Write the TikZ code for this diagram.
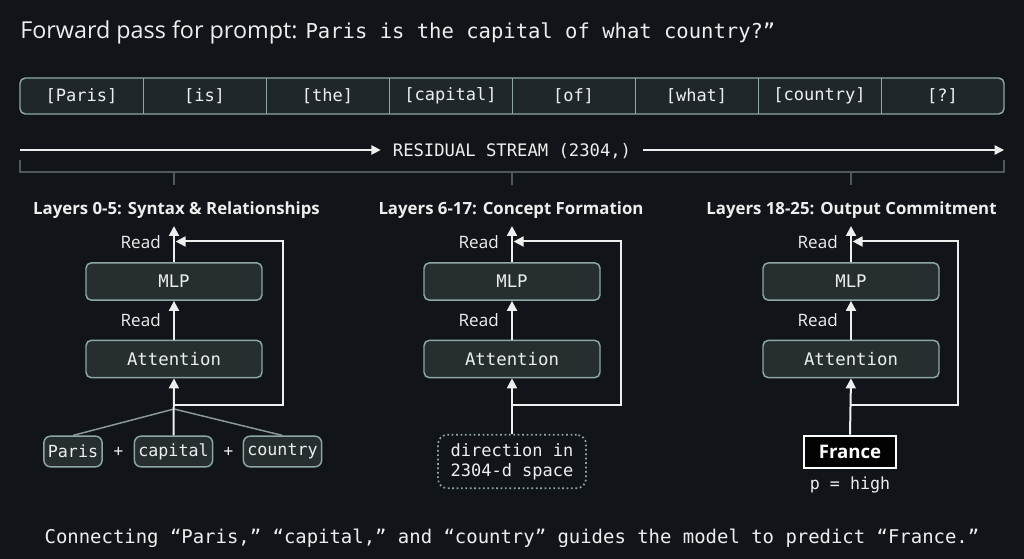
\documentclass[tikz,border=0pt]{standalone}
\usepackage{fontspec}
\setmainfont{Open Sans}
\newfontfamily\monof{DejaVu Sans Mono}
\usetikzlibrary{arrows.meta}
\definecolor{bgc}{HTML}{111418}
\definecolor{boxfill}{HTML}{262E2F}
\definecolor{boxline}{HTML}{8DA8A2}
\definecolor{tokfill}{HTML}{20272A}
\definecolor{fg}{HTML}{EDEFEF}
\definecolor{bracketc}{HTML}{51585B}
\definecolor{fanc}{HTML}{8C9A99}
\tikzset{
  arr/.style={draw=fg, line width=1.5pt, -{Triangle[length=7.5pt,width=7.5pt]}},
  layerbox/.style={draw=boxline, fill=boxfill, line width=1.1pt, rounded corners=4pt,
    minimum width=132pt, minimum height=28pt, inner sep=0pt, text=fg,
    font=\monof\fontsize{13}{14}\selectfont},
  inbox/.style={draw=boxline, fill=boxfill, line width=1.1pt, rounded corners=5pt,
    minimum height=23pt, inner xsep=3pt, inner ysep=0pt, text=fg,
    font=\monof\fontsize{12.5}{14}\selectfont},
  tok/.style={minimum width=92.25pt, minimum height=27pt, inner sep=0pt, text=fg,
    font=\monof\fontsize{12.75}{14}\selectfont},
  readlbl/.style={anchor=base east, inner sep=0pt, text=fg, font=\fontsize{12.8}{14}\selectfont},
  sect/.style={anchor=base, inner sep=0pt, text=fg, font=\bfseries\fontsize{12.6}{14}\selectfont},
  plus/.style={text=fg, inner sep=0pt, font=\monof\fontsize{12}{14}\selectfont},
}
\begin{document}
\begin{tikzpicture}[x=0.75pt,y=-0.75pt]
\fill[bgc] (0,0) rectangle (1024,559);
\useasboundingbox (0,0) rectangle (1024,559);

% title
\node[anchor=base west, inner sep=0pt, text=fg] (title) at (20,39)
  {\fontsize{17.5}{20}\selectfont Forward pass for prompt: {\monof\fontsize{15.4}{20}\selectfont Paris is the capital of what country?”}};

% token bar
\draw[boxline, fill=tokfill, line width=1.1pt, rounded corners=4pt] (20,78) rectangle (1004,114);
\foreach \i/\t in {1/[Paris],2/[is],3/[the],4/[capital],5/[of],6/[what],7/[country],8/[?]}{
  \node[tok] (t\i) at ({20+123*(\i-0.5)},96) {\t};
}
\foreach \i in {1,...,7}{
  \draw[boxline, line width=1.1pt] (t\i.north east) -- (t\i.south east);
}

% residual stream
\node[text=fg, inner sep=0pt, font=\monof\fontsize{12.9}{14}\selectfont] (rs) at (512,151) {RESIDUAL STREAM (2304,)};
\coordinate (rsL) at (20,150);
\coordinate (rsR) at (1004,150);
\draw[draw=fg, line width=1.1pt, -{Triangle[length=7pt,width=7pt]}] (rsL) -- ([xshift=-9pt]rs.west |- rsL);
\draw[draw=fg, line width=1.1pt, -{Triangle[length=7pt,width=7pt]}] ([xshift=9pt]rs.east |- rsR) -- (rsR);

% bracket
\coordinate (bL) at (20,160);
\coordinate (bR) at (1004,160);
\draw[bracketc, line width=0.9pt] (bL) -- (20,172) -- (1004,172) -- (bR);
\foreach \c in {174,512,851}{
  \draw[bracketc, line width=0.9pt] (\c,172) -- (\c,185);
}

% section titles
\node[sect] (s1) at (176.5,215) {Layers 0-5: Syntax \& Relationships};
\node[sect] (s2) at (511,215) {Layers 6-17: Concept Formation};
\node[sect] (s3) at (851.5,215) {Layers 18-25: Output Commitment};

% columns
\foreach \n/\c/\r in {1/174/283, 2/512/621, 3/851/958}{
  \node[layerbox] (mlp\n) at (\c,281.5) {MLP};
  \node[layerbox] (att\n) at (\c,359) {Attention};
  \coordinate (top\n) at (\c,226);
  \coordinate (jn\n) at (\c,405);
  \coordinate (lp\n) at (\r,241.5);
  \draw[arr] (mlp\n.north) -- (top\n);
  \draw[arr] (att\n.north) -- (mlp\n.south);
  \draw[arr] (jn\n) -| (lp\n) -- ([xshift=1.2pt]\c,241.5);
  \node[readlbl] (rd\n a) at (\c-13,249) {Read};
  \node[readlbl] (rd\n b) at (\c-13,327) {Read};
}

% column 1 inputs
\node[inbox] (paris) at (73,451.5) {Paris};
\node[plus] (p1) at (118.5,452) {+};
\node[inbox] (capital) at (173.5,451.5) {capital};
\node[plus] (p2) at (228.5,452) {+};
\node[inbox] (country) at (282.5,451.5) {country};
\coordinate (apex) at (174,409);
\draw[fanc, line width=1.1pt] (paris.north) -- (apex) -- (country.north);
\draw[arr] (capital.north) -- (att1.south);

% column 2 input
\node[draw=boxline, dotted, line width=1.3pt, rounded corners=7pt, fill=bgc,
  minimum width=111pt, minimum height=40pt, inner sep=0pt, align=center, text=fg,
  font=\monof\fontsize{12.75}{15}\selectfont] (dir) at (512,461.5) {direction in\\2304-d space};
\draw[arr] (dir.north) -- (att2.south);

% column 3 output
\node[draw=white, line width=2pt, fill=black!85!bgc, minimum width=69pt, minimum height=24pt,
  inner sep=0pt, text=white, font=\bfseries\fontsize{14}{15}\selectfont] (france) at (850,452) {France};
\node[anchor=base, inner sep=0pt, text=fg, font=\monof\fontsize{12.5}{14}\selectfont] (ph) at (850,489) {p = high};
\draw[arr] (france.north) -- (att3.south);

% caption
\node[text=fg, inner sep=0pt, font=\monof\fontsize{14.2}{16}\selectfont] (cap) at (512,538)
  {Connecting “Paris,” “capital,” and “country” guides the model to predict “France.”};
\end{tikzpicture}
\end{document}
